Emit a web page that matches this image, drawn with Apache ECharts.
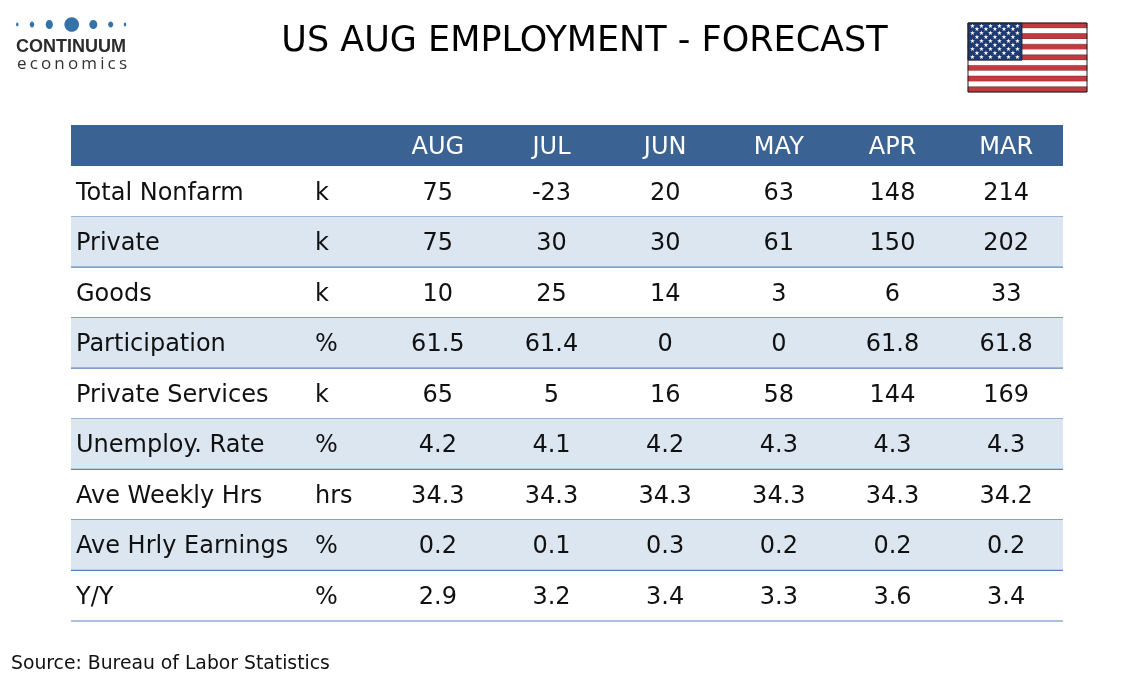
<!DOCTYPE html>
<html>
<head>
<meta charset="utf-8">
<script src="https://cdn.jsdelivr.net/npm/echarts@6/dist/echarts.min.js"></script>
<style>
  html, body { margin: 0; padding: 0; background: #fff; }
  #chart { width: 1134px; height: 680px; }
</style>
</head>
<body>
<div id="chart"></div>
<script>
// 表格数据
const months = ['AUG', 'JUL', 'JUN', 'MAY', 'APR', 'MAR'];
const rowLabels = ['Total Nonfarm', 'Private', 'Goods', 'Participation', 'Private Services',
  'Unemploy. Rate', 'Ave Weekly Hrs', 'Ave Hrly Earnings', 'Y/Y'];
const units = ['k', 'k', 'k', '%', 'k', '%', 'hrs', '%', '%'];

const totalNonfarm = [75, -23, 20, 63, 148, 214];
const privatePayrolls = [75, 30, 30, 61, 150, 202];
const goods = [10, 25, 14, 3, 6, 33];
const participation = ['61.5', '61.4', '0', '0', '61.8', '61.8'];
const privateServices = [65, 5, 16, 58, 144, 169];
const unemployRate = ['4.2', '4.1', '4.2', '4.3', '4.3', '4.3'];
const aveWeeklyHrs = ['34.3', '34.3', '34.3', '34.3', '34.3', '34.2'];
const aveHrlyEarnings = ['0.2', '0.1', '0.3', '0.2', '0.2', '0.2'];
const yoy = ['2.9', '3.2', '3.4', '3.3', '3.6', '3.4'];

const rows = [totalNonfarm, privatePayrolls, goods, participation, privateServices,
  unemployRate, aveWeeklyHrs, aveHrlyEarnings, yoy];

const FONT = '"DejaVu Sans", Verdana, sans-serif';
const HEADER_BG = '#3a6393';
const SHADE = '#dce6f1';
const LINE = '#5a84b6';
const TEXT = '#111';

// 标签列相对于月份列左边界的位置
const TABLE_LEFT_OFFSET = 310;
const LABEL_OFFSET = 305;
const UNIT_OFFSET = 66;
const HEADER_H = 41;
const TEXT_DY = 2;

const rowData = rowLabels.map((_, i) => [0, i]);
const cellData = [];
rows.forEach((vals, r) => vals.forEach((v, m) => cellData.push([m, r, String(v)])));

function renderRow(params, api) {
  const cs = params.coordSys;
  const r = api.value(1);
  const yc = api.coord([0, r])[1];
  const h = api.size([0, 1])[1];
  const x0 = cs.x - TABLE_LEFT_OFFSET;
  const x1 = cs.x + cs.width;
  const top = yc - h / 2;
  const children = [];
  if (r % 2 === 1) {
    children.push({ type: 'rect', shape: { x: x0, y: top, width: x1 - x0, height: h },
      style: { fill: SHADE } });
  }
  children.push({ type: 'line', shape: { x1: x0, y1: top + h, x2: x1, y2: top + h },
    style: { stroke: LINE, lineWidth: 1.2 } });
  children.push({ type: 'text', x: cs.x - LABEL_OFFSET, y: yc + TEXT_DY,
    style: { text: rowLabels[r], fill: TEXT, font: '24px ' + FONT, verticalAlign: 'middle', align: 'left' } });
  children.push({ type: 'text', x: cs.x - UNIT_OFFSET, y: yc + TEXT_DY,
    style: { text: units[r], fill: TEXT, font: '24px ' + FONT, verticalAlign: 'middle', align: 'left' } });
  if (r === 0) {
    // 表头
    children.push({ type: 'rect', shape: { x: x0, y: cs.y - HEADER_H, width: x1 - x0, height: HEADER_H },
      style: { fill: HEADER_BG } });
    months.forEach((m, i) => {
      children.push({ type: 'text', x: api.coord([i, 0])[0], y: cs.y - HEADER_H / 2 + 2.5,
        style: { text: m, fill: '#fff', font: '24px ' + FONT, verticalAlign: 'middle', align: 'center' } });
    });
  }
  return { type: 'group', children };
}

function renderCell(params, api) {
  const p = api.coord([api.value(0), api.value(1)]);
  return {
    type: 'text', x: p[0], y: p[1] + TEXT_DY,
    style: { text: cellData[params.dataIndex][2], fill: TEXT, font: '24px ' + FONT,
      verticalAlign: 'middle', align: 'center' }
  };
}

// 标志与国旗
const graphics = [];
const dotX = [17.3, 32, 49.3, 71.7, 93.3, 110.7, 125];
const dotRx = [1.2, 2.2, 3.6, 7.3, 4, 2.5, 1.2];
const dotRy = [2, 3, 4.6, 7.3, 4.6, 3, 2];
dotX.forEach((x, i) => {
  graphics.push({ type: 'ellipse', shape: { cx: x, cy: 24.5, rx: dotRx[i], ry: dotRy[i] },
    style: { fill: '#3572a8' } });
});
graphics.push({ type: 'text', left: 16, top: 38,
  style: { text: 'CONTINUUM', fill: '#2b2b2b', font: 'bold 18px "Liberation Sans", Arial, sans-serif' } });

// economics 字间距
const ecoFont = '17px "Open Sans", sans-serif';
const ctx = document.createElement('canvas').getContext('2d');
ctx.font = ecoFont;
const eco = 'economics'.split('');
const ecoW = eco.reduce((s, ch) => s + ctx.measureText(ch).width, 0);
const gap = (110 - ecoW) / (eco.length - 1);
let ex = 17;
eco.forEach(ch => {
  graphics.push({ type: 'text', x: ex, y: 64.5,
    style: { text: ch, fill: '#333', font: ecoFont, verticalAlign: 'middle', align: 'left' } });
  ex += ctx.measureText(ch).width + gap;
});

const fx = 968, fy = 23, fw = 119, fh = 69;
const stripeH = fh / 13;
for (let i = 0; i < 13; i++) {
  graphics.push({ type: 'rect', shape: { x: fx, y: fy + i * stripeH, width: fw, height: stripeH },
    style: { fill: i % 2 === 0 ? '#c4393f' : '#ffffff', stroke: i % 2 === 0 ? '#5a2a2a' : null, lineWidth: 0.5 } });
}
graphics.push({ type: 'rect', shape: { x: fx, y: fy, width: 54, height: stripeH * 7 },
  style: { fill: '#1d3a72', stroke: '#222', lineWidth: 0.8 } });
for (let r = 0; r < 9; r++) {
  const n = r % 2 === 0 ? 6 : 5;
  for (let c = 0; c < n; c++) {
    const sx = fx + 4.5 + c * 9 + (r % 2 === 0 ? 0 : 4.5);
    const sy = fy + 3 + r * 3.9;
    graphics.push({ type: 'text', x: sx, y: sy,
      style: { text: '★', fill: '#fff', font: '6px "DejaVu Sans"', align: 'center', verticalAlign: 'middle' } });
  }
}
graphics.push({ type: 'rect', shape: { x: fx, y: fy, width: fw, height: fh },
  style: { fill: null, stroke: '#222', lineWidth: 1 } });

graphics.push({ type: 'text', x: 584.5, y: 42,
  style: { text: 'US AUG EMPLOYMENT - FORECAST', fill: '#000', font: '35px ' + FONT,
    align: 'center', verticalAlign: 'middle' } });
graphics.push({ type: 'text', x: 11, y: 664,
  style: { text: 'Source: Bureau of Labor Statistics', fill: '#111', font: '18.8px ' + FONT,
    align: 'left', verticalAlign: 'middle' } });

const chart = echarts.init(document.getElementById('chart'));
chart.setOption({
  animation: false,
  grid: { left: 381, right: 71, top: 166, bottom: 59 },
  xAxis: { type: 'category', data: months, show: false },
  yAxis: { type: 'category', data: rowLabels, inverse: true, show: false },
  graphic: graphics,
  series: [
    { type: 'custom', renderItem: renderRow, data: rowData, clip: false, silent: true },
    { type: 'custom', renderItem: renderCell, data: cellData, clip: false, silent: true }
  ]
});
</script>
</body>
</html>
